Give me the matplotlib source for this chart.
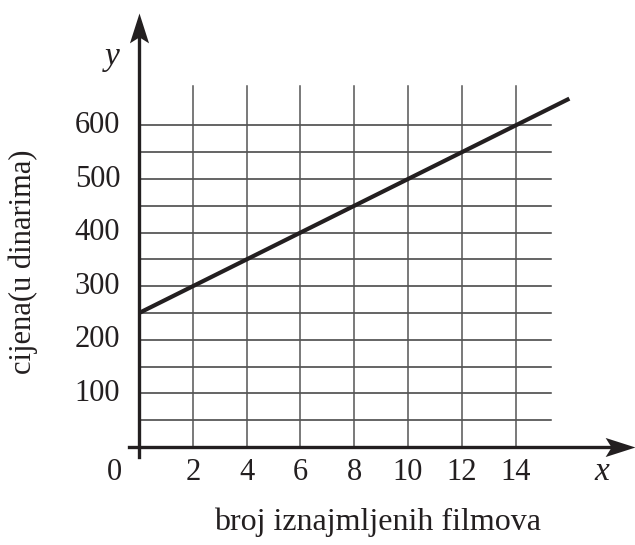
import numpy as np
import matplotlib.pyplot as plt
from matplotlib.path import Path

# data
films = [0, 16]
price = [250, 650]
x_ticks = [2, 4, 6, 8, 10, 12, 14]
y_ticks = [100, 200, 300, 400, 500, 600]
h_grid = np.arange(50, 601, 50)

plt.rcParams['font.family'] = ['Liberation Serif', 'DejaVu Serif']

fig = plt.figure(figsize=(6.35, 5.45), dpi=100)
ax = fig.add_axes([0, 0, 1, 1])
ax.set_xlim(-5.17, 18.44)
ax.set_ylim(-182.8, 834)
ax.axis('off')

ink = '#231f20'

# grid
for yy in h_grid:
    ax.plot([0, 15.3], [yy, yy], color='#3a3a3a', lw=1.1, zorder=1)
for xx in x_ticks:
    ax.plot([xx, xx], [0, 673], color='#555555', lw=1.1, zorder=1)

# axes with stealth style arrowheads
right_head = Path([(0, 0), (-1, 0.32), (-0.8, 0), (-1, -0.32), (0, 0)],
                  [Path.MOVETO, Path.LINETO, Path.LINETO, Path.LINETO, Path.CLOSEPOLY])
up_head = Path([(0, 0), (0.32, -1), (0, -0.8), (-0.32, -1), (0, 0)],
               [Path.MOVETO, Path.LINETO, Path.LINETO, Path.LINETO, Path.CLOSEPOLY])

ax.plot([-0.37, 17.8], [0, 0], color=ink, lw=2.4, zorder=2)
ax.plot([0, 0], [-19, 770], color=ink, lw=2.4, zorder=2)
ax.plot([18.44], [0], marker=right_head, markersize=43, color=ink, mew=0, zorder=4)
ax.plot([0], [810], marker=up_head, markersize=43, color=ink, mew=0, zorder=4)

# line
ax.plot(films, price, color=ink, lw=3, solid_capstyle='butt', zorder=3)

# tick labels
for xx in x_ticks:
    ax.text(xx, -47, str(xx), ha='center', va='center', fontsize=22, color=ink)
ax.text(-0.93, -47, '0', ha='center', va='center', fontsize=22, color=ink)
for yy in y_ticks:
    ax.text(-0.7, yy, str(yy), ha='right', va='center', fontsize=22, color=ink)

ax.text(17.2, -47, 'x', ha='center', va='center', fontsize=24, style='italic', color=ink)
ax.text(-1.0, 728, 'y', ha='center', va='center', fontsize=24, style='italic', color=ink)

# axis titles
ax.text(8.88, -140, 'broj iznajmljenih filmova', ha='center', va='center',
        fontsize=23, color=ink)
ax.text(-4.31, 345, 'cijena(u dinarima)', ha='center', va='center',
        rotation=90, fontsize=22, color=ink)

fig.savefig('out.png', dpi=100)
